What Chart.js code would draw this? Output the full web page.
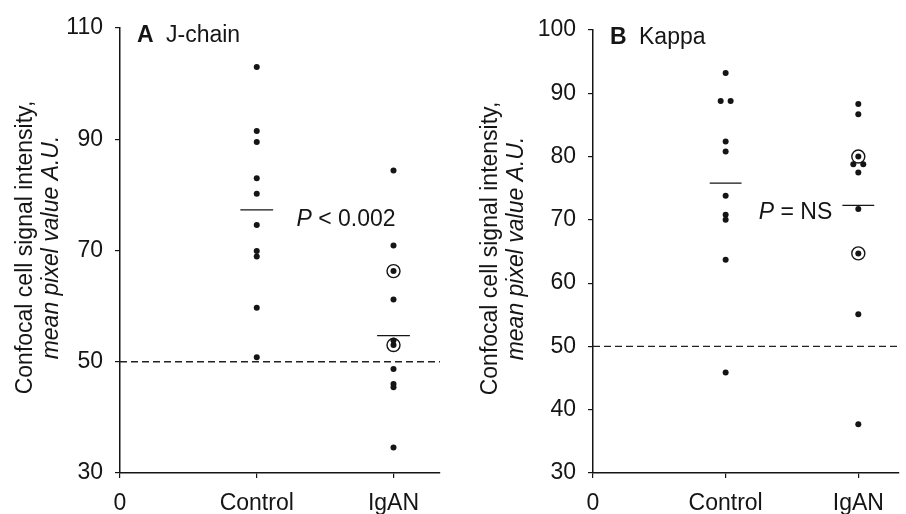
<!DOCTYPE html>
<html>
<head>
<meta charset="utf-8">
<script src="https://cdn.jsdelivr.net/npm/chart.js@4.4.0/dist/chart.umd.min.js"></script>
<style>
  html, body { margin: 0; padding: 0; background: #fff; }
  .panel { position: absolute; top: 0; width: 453px; height: 514px; }
  #left { left: 0; }
  #right { left: 453px; }
</style>
</head>
<body>
<div class="panel" id="left"><canvas id="jchainChart"></canvas></div>
<div class="panel" id="right"><canvas id="kappaChart"></canvas></div>
<script>
// values (A.U.)
const groups = ['Control', 'IgAN'];
const xTickLabels = ['0', 'Control', 'IgAN'];

const jchainControl = [103, 91.5, 89.5, 83, 80.2, 74.6, 69.9, 68.9, 59.7, 50.8];
const jchainIgan = [84.4, 70.9, 61.2, 53.8, 48.7, 46.0, 45.4, 34.6];
const jchainIganCircled = [66.3, 53.0];
const jchainMeans = [77.3, 54.7];

const kappaControl = [93.2, 88.8, 88.8, 82.4, 80.8, 73.8, 70.8, 70.0, 63.7, 45.9];
const kappaIgan = [88.3, 86.7, 78.8, 78.8, 77.5, 71.7, 55.1, 37.7];
const kappaIganCircled = [80.0, 64.7];
const kappaMeans = [75.8, 72.3];

const cutoff = 50;

const FONT = "'Liberation Sans', Arial, Helvetica, sans-serif";
const INK = '#151515';

// spread equal values side by side, like the printed dot plot
function toPoints(values, x) {
  const seen = {};
  values.forEach((v) => { seen[v] = (seen[v] || 0) + 1; });
  const used = {};
  return values.map((v) => {
    const n = seen[v];
    const i = used[v] = (used[v] || 0) + 1;
    const off = n > 1 ? (i - (n + 1) / 2) * 0.075 : 0;
    return { x: x + off, y: v };
  });
}

const panelText = {
  id: 'panelText',
  afterDraw(chart, args, opts) {
    const { ctx, chartArea, scales } = chart;
    ctx.save();
    ctx.fillStyle = INK;
    ctx.textBaseline = 'middle';
    // panel letter + name
    ctx.font = `bold 23px ${FONT}`;
    ctx.textAlign = 'left';
    ctx.fillText(opts.letter, chartArea.left + 17, chartArea.top + 8);
    const lw = ctx.measureText(opts.letter + ' ').width;
    ctx.font = `23px ${FONT}`;
    ctx.fillText(opts.name, chartArea.left + 17 + lw + 6, chartArea.top + 8);

    // P annotation
    const px = scales.x.getPixelForValue(opts.pAt[0]);
    const py = scales.y.getPixelForValue(opts.pAt[1]);
    ctx.font = `italic 23px ${FONT}`;
    ctx.fillText('P', px, py);
    const pw = ctx.measureText('P').width;
    ctx.font = `23px ${FONT}`;
    ctx.fillText(opts.pText, px + pw, py);

    // y axis title, two lines
    const cy = (chartArea.top + chartArea.bottom) / 2 - 3;
    ctx.textAlign = 'center';
    ctx.textBaseline = 'alphabetic';
    opts.yTitle.forEach((line, i) => {
      ctx.save();
      ctx.translate(opts.yTitleX[i], cy);
      ctx.rotate(-Math.PI / 2);
      ctx.font = `${i === 1 ? 'italic ' : ''}23px ${FONT}`;
      ctx.fillText(line, 0, 0);
      ctx.restore();
    });
    ctx.restore();
  }
};

function buildPanel(canvasId, cfg) {
  const dot = { type: 'scatter', pointRadius: 3, pointHoverRadius: 3, backgroundColor: INK, borderWidth: 0 };
  const datasets = [
    { ...dot, data: toPoints(cfg.control, 1) },
    { ...dot, data: toPoints(cfg.igan.concat(cfg.circled), 2) },
    {
      type: 'scatter', data: toPoints(cfg.circled, 2), pointRadius: 6.5, pointHoverRadius: 6.5,
      backgroundColor: 'rgba(0,0,0,0)', borderColor: INK, borderWidth: 1.4
    },
    {
      type: 'line', data: [{ x: 0, y: cutoff }, { x: cfg.xMax, y: cutoff }],
      borderColor: '#222', borderWidth: 1.3, borderDash: [7, 4], pointRadius: 0
    }
  ];
  cfg.means.forEach((m, i) => {
    datasets.push({
      type: 'line', data: [{ x: i + 1 - 0.12, y: m }, { x: i + 1 + 0.12, y: m }],
      borderColor: INK, borderWidth: 1.3, pointRadius: 0
    });
  });

  return new Chart(document.getElementById(canvasId), {
    type: 'scatter',
    data: { datasets },
    plugins: [panelText],
    options: {
      responsive: true,
      maintainAspectRatio: false,
      animation: false,
      layout: { padding: cfg.padding },
      plugins: {
        legend: { display: false },
        tooltip: { enabled: false },
        panelText: { letter: cfg.letter, name: cfg.name, pText: cfg.pText, pAt: cfg.pAt, yTitle: ['Confocal cell signal intensity,', 'mean pixel value A.U.'], yTitleX: cfg.yTitleX }
      },
      scales: {
        x: {
          type: 'linear', min: 0, max: cfg.xMax,
          afterBuildTicks: (s) => { s.ticks = [0, 1, 2].map((v) => ({ value: v })); },
          afterFit: (s) => { s.height = 41; },
          ticks: { callback: (v) => xTickLabels[v], color: INK, font: { family: FONT, size: 23 }, padding: 12, maxRotation: 0 },
          grid: { drawOnChartArea: false, drawTicks: true, tickLength: 5, color: INK, lineWidth: 1.2 },
          border: { display: true, color: INK, width: 1.5 }
        },
        y: {
          min: 30, max: cfg.yMax,
          afterFit: (s) => { s.width = cfg.yWidth; },
          ticks: { stepSize: cfg.yStep, color: INK, font: { family: FONT, size: 23 }, padding: 12 },
          grid: { drawOnChartArea: false, drawTicks: true, tickLength: 5, color: INK, lineWidth: 1.2 },
          border: { display: true, color: INK, width: 1.5 }
        }
      }
    }
  });
}

buildPanel('jchainChart', {
  letter: 'A', name: 'J-chain', control: jchainControl, igan: jchainIgan, circled: jchainIganCircled,
  means: jchainMeans, pText: ' < 0.002', pAt: [1.29, 75.6], yMax: 110, yStep: 20, xMax: 2.34,
  yWidth: 120, padding: { top: 28, right: 13, left: 0, bottom: 0 }, yTitleX: [32, 58]
});

buildPanel('kappaChart', {
  letter: 'B', name: 'Kappa', control: kappaControl, igan: kappaIgan, circled: kappaIganCircled,
  means: kappaMeans, pText: ' = NS', pAt: [1.25, 71.1], yMax: 100, yStep: 10, xMax: 2.3,
  yWidth: 140, padding: { top: 30, right: 1, left: 0, bottom: 0 }, yTitleX: [44, 70]
});
</script>
</body>
</html>
